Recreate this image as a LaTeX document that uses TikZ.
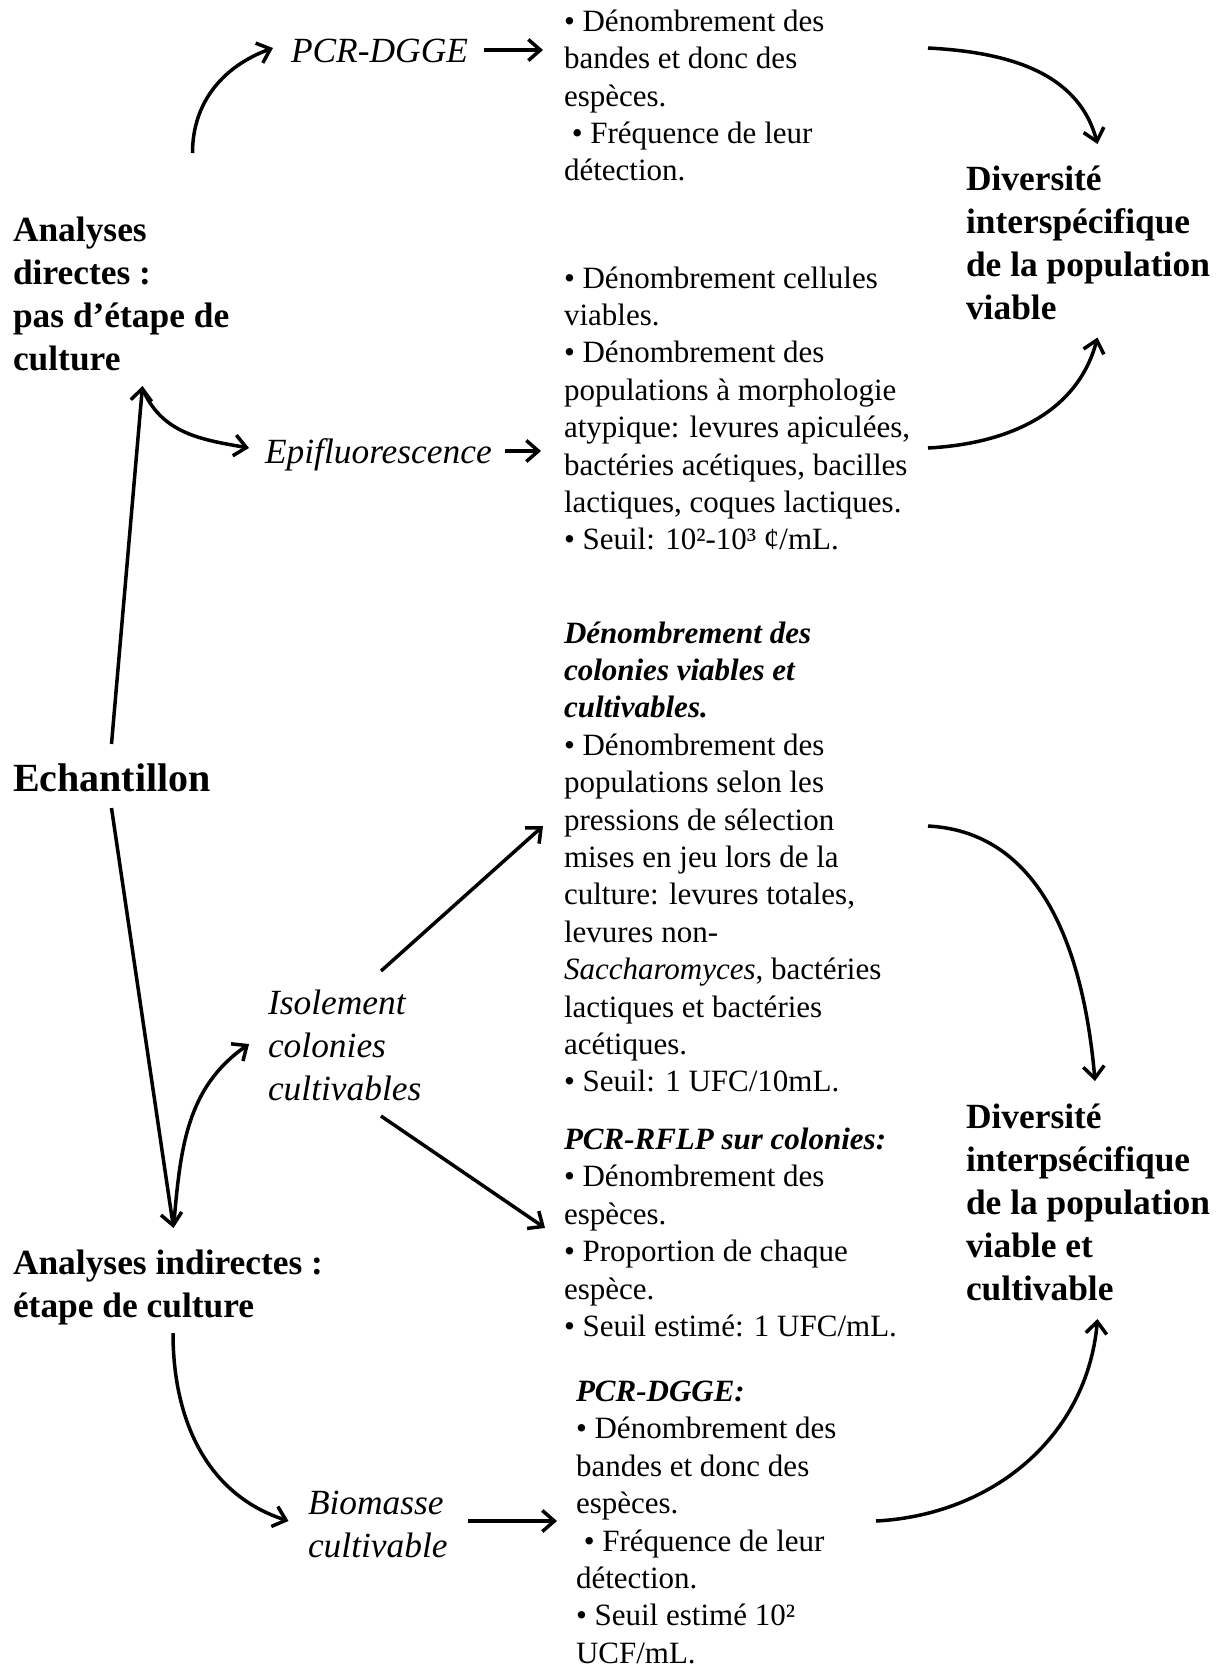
\documentclass[tikz,border=0pt]{standalone}
\usepackage{fontspec}
\setmainfont{Liberation Serif}
\usetikzlibrary{arrows.meta}
% font sizes (1pt = one unit of the drawing)
\newcommand{\bodyfont}{\fontsize{31}{37.4}\selectfont}
\newcommand{\headfont}{\fontsize{35.4}{42.9}\selectfont\bfseries}
\newcommand{\labelfont}{\fontsize{35.4}{42.9}\selectfont\itshape}
\newcommand{\bigfont}{\fontsize{40}{48}\selectfont\bfseries}
% fixed first-line heights so that node tops give exact baselines
\newcommand{\fb}{\rule{0pt}{28pt}}
\newcommand{\fh}{\rule{0pt}{32pt}}
\newcommand{\fe}{\rule{0pt}{36pt}}
\begin{document}
\begin{tikzpicture}[x=1pt,y=-1pt,
  txt/.style={anchor=north west, inner sep=0pt, outer sep=0pt, align=left, font=\bodyfont},
  head/.style={txt, font=\headfont},
  lab/.style={txt, font=\labelfont},
  big/.style={txt, font=\bigfont},
  arr/.style={line width=3.5pt, -{Straight Barb[length=12pt,width=21pt]}}]

\useasboundingbox (0,0) rectangle (1223,1667);

% ---------- left column ----------
\node[head] (direct) at (13,209.7) {\fh Analyses\\directes :\\pas d’étape de\\culture};
\node[big] (ech) at (13,755) {\fe Echantillon};
\node[head] (indirect) at (13,1242.7) {\fh Analyses indirectes :\\étape de culture};

% ---------- methods ----------
\node[lab] (pcrA) at (291,30.7) {\fh PCR-DGGE};
\node[lab] (epi) at (265,431.7) {\fh Epifluorescence};
\node[lab] (iso) at (268,982.7) {\fh Isolement\\colonies\\cultivables};
\node[lab] (bio) at (308,1482.7) {\fh Biomasse\\cultivable};

% ---------- results ----------
\node[txt] (resA) at (564,3.3) {\fb • Dénombrement des\\bandes et donc des\\espèces.\\\hspace*{7.8pt}• Fréquence de leur\\détection.};
\node[txt] (resB) at (564,260) {\fb • Dénombrement cellules\\viables.\\• Dénombrement des\\populations à morphologie\\atypique: levures apiculées,\\bactéries acétiques, bacilles\\lactiques, coques lactiques.\\• Seuil: 10²-10³ ¢/mL.};
\node[txt] (resC) at (564,615) {\fb \textbf{\textit{Dénombrement des}}\\\textbf{\textit{colonies viables et}}\\\textbf{\textit{cultivables.}}\\• Dénombrement des\\populations selon les\\pressions de sélection\\mises en jeu lors de la\\culture: levures totales,\\levures non-\\\textit{Saccharomyces}, bactéries\\lactiques et bactéries\\acétiques.\\• Seuil: 1 UFC/10mL.};
\node[txt] (resD) at (564,1121.5) {\fb \textbf{\textit{PCR-RFLP sur colonies:}}\\• Dénombrement des\\espèces.\\• Proportion de chaque\\espèce.\\• Seuil estimé: 1 UFC/mL.};
\node[txt] (resE) at (576,1373.5) {\fb \textbf{\textit{PCR-DGGE:}}\\• Dénombrement des\\bandes et donc des\\espèces.\\\hspace*{7.8pt}• Fréquence de leur\\détection.\\• Seuil estimé 10²\\UCF/mL.};

% ---------- conclusions ----------
\node[head] (divA) at (966,158.7) {\fh Diversité\\interspécifique\\de la population\\viable};
\node[head] (divB) at (966,1096.7) {\fh Diversité\\interpsécifique\\de la population\\viable et\\cultivable};

% ---------- connector ends ----------
\coordinate (directTop) at (192.5,153);
\coordinate (pcrIn) at (273,48);
\coordinate (pcrOut) at (484,50);
\coordinate (resAIn) at (543,50);
\coordinate (resAOut) at (928,48);
\coordinate (divATop) at (1097.5,144);
\coordinate (echTop) at (111.5,744);
\coordinate (directBot) at (142.5,386);
\coordinate (directFork) at (144,392);
\coordinate (epiIn) at (249,448);
\coordinate (epiOut) at (505,451);
\coordinate (resBIn) at (541,451);
\coordinate (resBOut) at (928,448);
\coordinate (divABot) at (1097.5,337.5);
\coordinate (echBot) at (111.5,808);
\coordinate (indirectTop) at (173.5,1228);
\coordinate (indirectFork) at (174,1222);
\coordinate (isoIn) at (249,1044);
\coordinate (isoUp) at (381,971);
\coordinate (resCIn) at (543,826);
\coordinate (isoDown) at (381,1116);
\coordinate (resDIn) at (545,1228);
\coordinate (resCOut) at (928,826);
\coordinate (divBTop) at (1095,1081);
\coordinate (indirectBot) at (173,1333);
\coordinate (bioIn) at (288.5,1521);
\coordinate (bioOut) at (468,1521);
\coordinate (resEIn) at (557,1521);
\coordinate (resEOut) at (876,1521);
\coordinate (divBBot) at (1097.5,1319);

% ---------- connectors ----------
\draw[arr] (directTop) to[out=90,in=200] (pcrIn);
\draw[arr] (pcrOut) -- (resAIn);
\draw[arr] (resAOut) to[out=-3,in=105] (divATop);

\draw[arr] (echTop) -- (directBot);
\draw[arr] (directFork) to[out=-65,in=170] (epiIn);
\draw[arr] (epiOut) -- (resBIn);
\draw[arr] (resBOut) to[out=3,in=-105] (divABot);

\draw[arr] (echBot) -- (indirectTop);
\draw[arr] (indirectFork) to[out=85,in=215] (isoIn);
\draw[arr] (isoUp) -- (resCIn);
\draw[arr] (isoDown) -- (resDIn);
\draw[arr] (resCOut) to[out=-3,in=95] (divBTop);

\draw[arr] (indirectBot) to[out=-90,in=162] (bioIn);
\draw[arr] (bioOut) -- (resEIn);
\draw[arr] (resEOut) to[out=3,in=-95] (divBBot);
\end{tikzpicture}
\end{document}
